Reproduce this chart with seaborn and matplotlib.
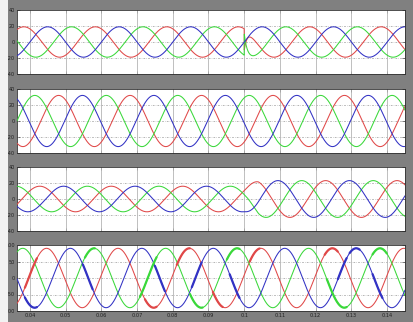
import numpy as np
import pandas as pd
import matplotlib
matplotlib.use("Agg")
import matplotlib.pyplot as plt
import seaborn as sns

# ---- data ----
phases = ["a", "b", "c"]
phase_colors = ["#e04848", "#3ad83a", "#3232c4"]   # red, green, blue
freq_hz = 50.0
t_start, t_end = 0.0364, 0.145
event_time = 0.10

# panel 1 : amplitude and phase (deg) of red, green, blue
p1_amp = [19.0, 19.0, 19.0]
p1_phase = [120.0, -120.0, 0.0]
p1_transient = [-27.0, 27.0, 0.0]          # step at the event, quickly decaying
# panel 2
p2_amp = [32.0, 32.0, 32.0]
p2_phase = [-55.0, 65.0, -175.0]
# panel 3 : amplitude before and after the event
p3_amp_before = [16.0, 16.0, 16.0]
p3_amp_after = [23.0, 23.0, 23.0]
p3_phase = [40.0, -200.0, -80.0]
# panel 4
p4_amp = [90.0, 90.0, 90.0]
p4_phase = [6.0, 126.0, -114.0]
# bold stretches seen on panel 4 (start, end) in seconds
p4_bold_red = [(0.0386, 0.0420), (0.0722, 0.0755), (0.0811, 0.0848), (0.0912, 0.0940),
               (0.1015, 0.1043), (0.1225, 0.1262)]
p4_bold_green = [(0.0554, 0.0582), (0.0708, 0.0755), (0.0848, 0.0884), (0.0951, 0.0987),
                 (0.1231, 0.1287), (0.1359, 0.1399)]
p4_bold_blue = [(0.0386, 0.0420), (0.0548, 0.0576), (0.0750, 0.0778), (0.0853, 0.0881),
                (0.0959, 0.0987), (0.1262, 0.1287), (0.1295, 0.1323), (0.1359, 0.1387)]

y_ticks_main = [-40, -20, 0, 20, 40]
y_ticks_last = [-100, -50, 0, 50, 100]
x_ticks = [0.04, 0.05, 0.06, 0.07, 0.08, 0.09, 0.10, 0.11, 0.12, 0.13, 0.14]
x_tick_labels = ["0.04", "0.05", "0.06", "0.07", "0.08", "0.09", "0.1", "0.11", "0.12", "0.13", "0.14"]

# ---- build waveforms ----
t = np.linspace(t_start, t_end, 3000)
w = 2 * np.pi * freq_hz
after = t >= event_time
ramp = np.clip((t - event_time) / 0.004, 0, 1)

def wave(amp, ph):
    return amp * np.sin(w * t + np.deg2rad(ph))

frames = []
for k, p in enumerate(phases):
    y1 = wave(p1_amp[k], p1_phase[k]) + np.where(after, p1_transient[k] * np.exp(-(t - event_time) / 0.0008), 0)
    y2 = wave(p2_amp[k], p2_phase[k])
    amp3 = p3_amp_before[k] + (p3_amp_after[k] - p3_amp_before[k]) * ramp
    y3 = amp3 * np.sin(w * t + np.deg2rad(p3_phase[k]))
    y4 = wave(p4_amp[k], p4_phase[k])
    for pan, y in zip([1, 2, 3, 4], [y1, y2, y3, y4]):
        frames.append(pd.DataFrame({"t": t, "v": y, "phase": p, "panel": pan}))
df = pd.concat(frames, ignore_index=True)

sns.set_style("white")
plt.rcParams["font.family"] = ["DejaVu Sans"]

fig = plt.figure(figsize=(4.14, 3.22), dpi=100, facecolor="#808080")
fig.patches.append(plt.Rectangle((0, 0), 8 / 414, 1, transform=fig.transFigure,
                                 facecolor="#f2f2f2", edgecolor="none", zorder=0))

left = 17 / 414
width = (405 - 17) / 414
rows = [(10, 74), (89, 153), (167, 231), (245, 311)]
pal = dict(zip(phases, phase_colors))

axes = []
for i, (top, bot) in enumerate(rows):
    ax = fig.add_axes([left, 1 - bot / 322, width, (bot - top) / 322])
    axes.append(ax)
    sub = df[df.panel == i + 1]
    sns.lineplot(data=sub, x="t", y="v", hue="phase", palette=pal, estimator=None,
                 sort=False, legend=False, linewidth=0.75, ax=ax, zorder=3)
    ax.set_facecolor("white")
    ax.set_xlim(t_start, t_end)
    yt = y_ticks_last if i == 3 else y_ticks_main
    ax.set_ylim(yt[0], yt[-1])
    ax.set_yticks(yt)
    ax.set_yticklabels([str(v) for v in yt])
    ax.set_xticks(x_ticks)
    if i == 3:
        ax.set_xticklabels(x_tick_labels)
    else:
        ax.set_xticklabels([])
    ax.set_xlabel("")
    ax.set_ylabel("")
    for v in yt[1:-1]:
        ax.axhline(v, color="#a8a8a8", lw=0.6, ls=(0, (2, 1.5, 0.6, 1.5)), zorder=1)
    for x in x_ticks:
        ax.axvline(x, color="#b4b4b4", lw=0.6, zorder=1)
    ax.tick_params(axis="both", direction="in", length=2, width=0.5, labelsize=3.6,
                   colors="#202020", pad=1.5, right=True, top=True, left=True, bottom=True)
    for s in ax.spines.values():
        s.set_color("#303030")
        s.set_linewidth(0.6)

# bold stretches on the last panel
ax4 = axes[3]
sub4 = df[df.panel == 4]
for p, wins in zip(phases, [p4_bold_red, p4_bold_green, p4_bold_blue]):
    d = sub4[sub4.phase == p]
    for a, b in wins:
        seg = d[(d.t >= a) & (d.t <= b)]
        sns.lineplot(data=seg, x="t", y="v", color=pal[p], estimator=None, sort=False,
                     legend=False, linewidth=1.6, ax=ax4, zorder=4)
ax4.set_xlabel("")
ax4.set_ylabel("")

fig.savefig("out.png", dpi=100, facecolor=fig.get_facecolor())
